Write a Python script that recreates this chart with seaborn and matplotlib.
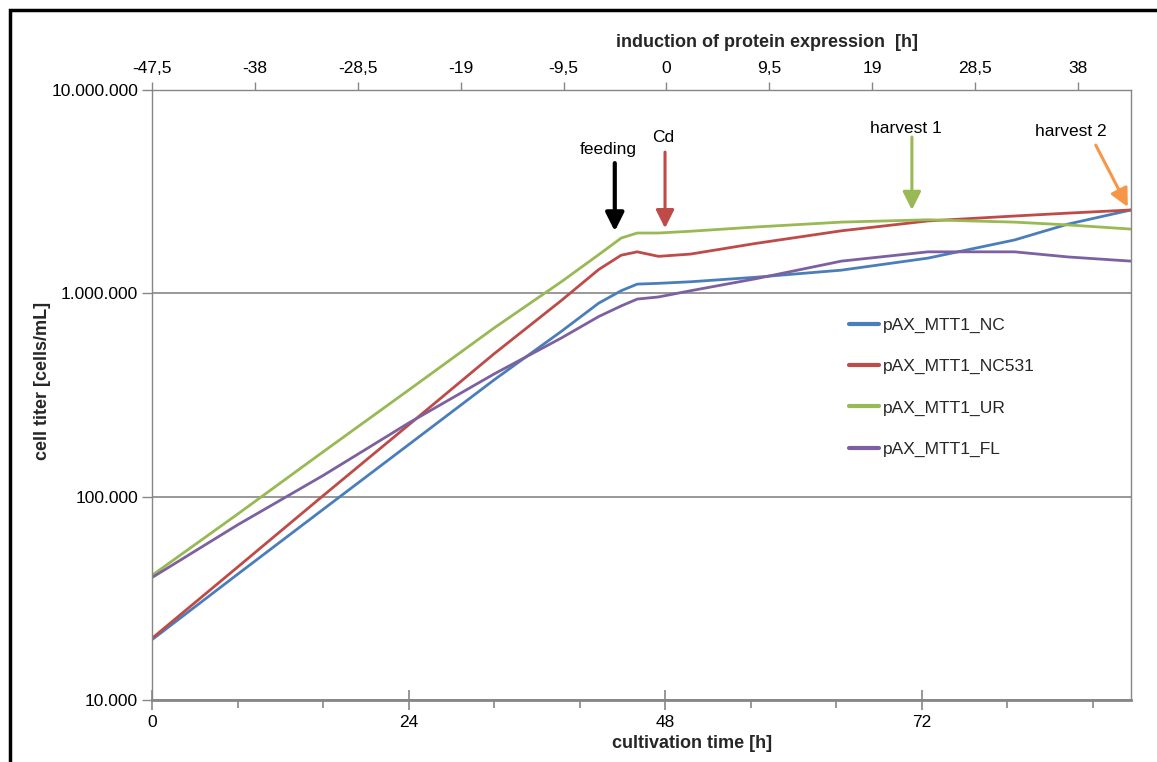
import matplotlib
matplotlib.use("Agg")
import matplotlib.pyplot as plt
import seaborn as sns
import pandas as pd
import numpy as np
from matplotlib.ticker import FixedLocator, FuncFormatter, NullFormatter
from matplotlib.patches import Rectangle

# ---------------- data ----------------
hours = [0, 8, 16, 24, 32, 38.3, 41.8, 43.9, 45.4, 47.4, 50.4, 56.5, 64.5, 72.6, 80.7, 85.7, 91.6]

nc    = [19800, 41500, 86500, 180000, 375000, 650000, 895000, 1030000, 1110000,
         1120000, 1140000, 1200000, 1300000, 1490000, 1830000, 2190000, 2570000]
nc531 = [20100, 45000, 101000, 225000, 504000, 922000, 1310000, 1540000, 1600000,
         1520000, 1560000, 1760000, 2030000, 2270000, 2400000, 2480000, 2570000]
ur    = [41000, 82000, 166000, 334000, 675000, 1140000, 1550000, 1870000, 1980000,
         1980000, 2020000, 2120000, 2240000, 2300000, 2240000, 2170000, 2070000]
fl    = [40000, 72600, 127000, 230000, 401000, 603000, 769000, 867000, 937000,
         960000, 1030000, 1180000, 1440000, 1600000, 1600000, 1510000, 1440000]

series_names = ["pAX_MTT1_NC", "pAX_MTT1_NC531", "pAX_MTT1_UR", "pAX_MTT1_FL"]
series_colors = ["#4A7EBB", "#BE4B48", "#98B954", "#7D60A0"]

bottom_ticks = [0, 24, 48, 72]
bottom_minor = [8, 16, 32, 40, 56, 64, 80, 88]
top_ticks = [-47.5, -38, -28.5, -19, -9.5, 0, 9.5, 19, 28.5, 38]
y_ticks = [10000, 100000, 1000000, 10000000]

# events: label, text x, text y, arrow tail x, tail y, tip x, tip y, colour
events = [
    ("feeding",   42.7, 5.07e6, 43.3, 4.37e6, 43.3, 2.02e6, "#000000"),
    ("Cd",        47.8, 5.81e6, 48.0, 4.95e6, 48.0, 2.09e6, "#BE4B48"),
    ("harvest 1", 70.5, 6.50e6, 71.1, 5.87e6, 71.1, 2.57e6, "#98B954"),
    ("harvest 2", 86.0, 6.28e6, 88.3, 5.36e6, 91.3, 2.66e6, "#F79646"),
]

df = pd.concat([
    pd.DataFrame({"hours": hours, "titer": vals, "strain": name})
    for name, vals in zip(series_names, [nc, nc531, ur, fl])
], ignore_index=True)

# ---------------- figure ----------------
sns.set_style("white")
plt.rcParams["font.family"] = ["Liberation Sans", "DejaVu Sans"]

fig = plt.figure(figsize=(11.57, 7.62), dpi=100)
ax = fig.add_axes([152/1157, 1-700/762, (1131-152)/1157, (700-90)/762])

sns.lineplot(data=df, x="hours", y="titer", hue="strain", hue_order=series_names,
             palette=series_colors, estimator=None, sort=False, linewidth=2.0,
             ax=ax, legend=True)

ax.set_yscale("log")
ax.set_ylim(1e4, 1e7)
ax.set_xlim(0, 91.6)

grey = "#868686"
for s in ax.spines.values():
    s.set_color(grey)
    s.set_linewidth(1.0)
ax.spines["bottom"].set_linewidth(2.0)

ax.yaxis.set_major_locator(FixedLocator(y_ticks))
ax.yaxis.set_minor_locator(FixedLocator([]))
ax.yaxis.set_major_formatter(FuncFormatter(lambda v, p: f"{int(round(v)):,}".replace(",", ".")))
ax.yaxis.grid(True, color=grey, linewidth=1.2)
ax.xaxis.grid(False)

ax.xaxis.set_major_locator(FixedLocator(bottom_ticks))
ax.xaxis.set_minor_locator(FixedLocator(bottom_minor))
ax.xaxis.set_minor_formatter(NullFormatter())
ax.tick_params(axis="x", which="major", direction="inout", length=14, width=1.2,
               color=grey, labelsize=12.5, labelcolor="black", pad=4)
ax.tick_params(axis="x", which="minor", direction="out", length=6, width=1.2, color=grey)
ax.tick_params(axis="y", which="major", direction="out", length=7, width=1.0,
               color=grey, labelsize=12.5, labelcolor="black", pad=3, left=True)

ax.set_xlabel("cultivation time [h]", fontsize=13, fontweight="bold")
ax.xaxis.set_label_coords(0.552, -0.058)
ax.set_ylabel("cell titer [cells/mL]", fontsize=13, fontweight="bold")
ax.yaxis.set_label_coords(-0.103, 0.523)

# top (secondary) axis
ax2 = ax.twiny()
ax2.set_xlim(-47.5, 42.9)
ax2.xaxis.set_major_locator(FixedLocator(top_ticks))
ax2.xaxis.set_major_formatter(FuncFormatter(
    lambda v, p: (f"{v:g}").replace(".", ",")))
ax2.tick_params(axis="x", which="major", direction="out", length=6, width=1.0,
                color=grey, labelsize=12.5, labelcolor="black", pad=4, top=True)
for s in ax2.spines.values():
    s.set_visible(False)
ax2.set_xlabel("induction of protein expression  [h]", fontsize=13, fontweight="bold")
ax2.xaxis.set_label_coords(0.628, 1.07)
ax2.grid(False)

# legend
leg = ax.legend(loc="upper left", bbox_to_anchor=(833/1157, 1-302/762),
                bbox_transform=fig.transFigure, frameon=False, fontsize=12.5,
                handlelength=1.75, handletextpad=0.2, labelspacing=1.5, title=None)
for line in leg.get_lines():
    line.set_linewidth(3.0)

# event annotations
for label, tx, ty, x0, y0, x1, y1, col in events:
    ax.annotate("", xy=(x1, y1), xytext=(x0, y0),
                arrowprops=dict(arrowstyle="-|>,head_length=0.5,head_width=0.25",
                                color=col, lw=3.0 if col == "#000000" else 2.2,
                                mutation_scale=22, shrinkA=0, shrinkB=0))
    ax.text(tx, ty, label, ha="center", va="center", fontsize=12.5, color="black")

# outer frame of the picture
fig.patches.append(Rectangle((10/1157, -0.05), 1.2, (1-10/762) + 0.05,
                             transform=fig.transFigure, fill=False,
                             edgecolor="black", linewidth=2.5))

fig.savefig("out.png", dpi=100)
